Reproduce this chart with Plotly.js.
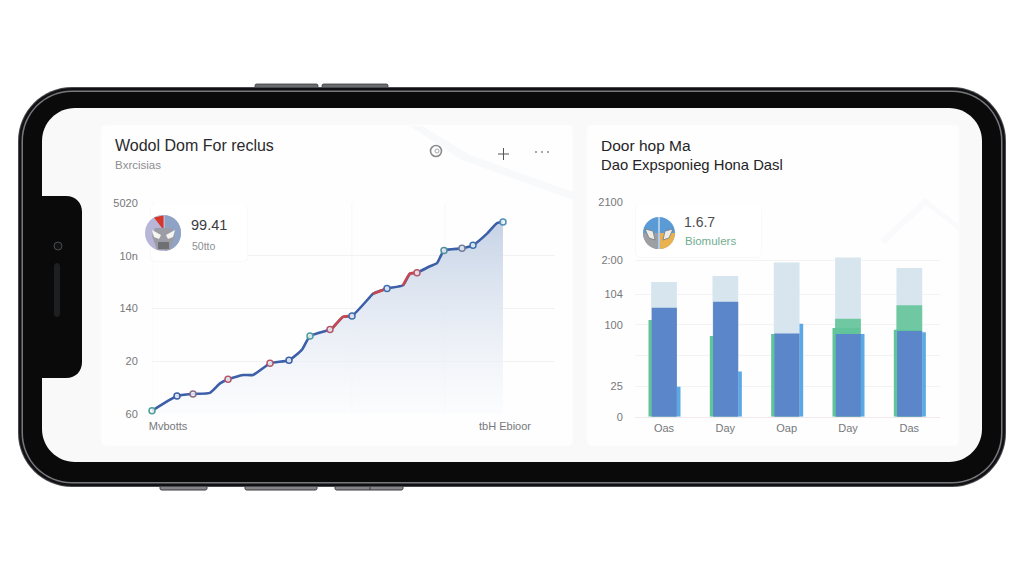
<!DOCTYPE html>
<html><head><meta charset="utf-8">
<script src="https://cdn.plot.ly/plotly-3.0.1.min.js"></script>
<style>html,body{margin:0;padding:0;background:#fff;overflow:hidden}#c{width:1024px;height:576px}</style>
</head><body><div id="c"></div>
<script>
// ---- left chart data
const lineX = [0,25,41,58,68,76,91,101,118,137,150,158,178,181,191,200,218,221,235,251,258,265,278,285,292,310,321,335,345,351];
const lineY = [3,17,19,20,29,33,37,37,48,51,61,74,80,82,92,93,111,114,119,122,133,134,140,143,155,157,160,171,181,182];
const redX = [178,181,191,200,null,221,235,null,251,258,265];
const redY = [80,82,92,93,null,114,119,null,122,133,134];
const dotX = [0,25,41,76,118,137,158,178,200,235,265,292,310,321,351];
const dotY = [3,17,19,33,48,51,74,80,93,119,134,155,157,160,182];
const dotC = ['#4f9e9c','#3b5ea8','#8d6b88','#b5566a','#b5566a','#3b5ea8','#4f9e9c','#b5566a','#3b6fb0','#3b6fb0','#b5566a','#4f8f9c','#6f7f9c','#3b6fb0','#4f8fb8'];
const leftTickVals = [0,50,100,150,200];
const leftTickText = ['60','20','140','10n','5020'];
const leftXTickVals = [16,353];
const leftXTickText = ['Mvbotts','tbH Ebioor'];
// ---- right chart data
const barX = [0,1,2,3,4];
const barLabels = ['Oas','Day','Oap','Day','Das'];
const paleVals = [110,115,126,130,121.5];
const midGreenVals = [null,null,null,80,91];
const greenVals = [79,66,67.5,72.5,71];
const skyVals = [24.5,37,76,67.5,69];
const blueVals = [89,94,68,67.5,70];
const rightTickVals = [0,25,50,75,100,128,175];
const rightTickText = ['0','25','','100','104','2:00','2100'];

const W=1024,H=576;
const px=x=>x/W, py=y=>1-y/H;
const P=(x,y)=>px(x)+','+py(y);
function rr(x0,y0,x1,y1,r){const k=r*0.448;return 'M'+P(x0+r,y0)+' L'+P(x1-r,y0)+' C'+P(x1-k,y0)+' '+P(x1,y0+k)+' '+P(x1,y0+r)+' L'+P(x1,y1-r)+' C'+P(x1,y1-k)+' '+P(x1-k,y1)+' '+P(x1-r,y1)+' L'+P(x0+r,y1)+' C'+P(x0+k,y1)+' '+P(x0,y1-k)+' '+P(x0,y1-r)+' L'+P(x0,y0+r)+' C'+P(x0,y0+k)+' '+P(x0+k,y0)+' '+P(x0+r,y0)+' Z';}
function poly(pts){return 'M'+pts.map(p=>P(p[0],p[1])).join(' L')+' Z';}
const shp=(path,fill,lineC,lw,layer)=>({type:'path',xref:'paper',yref:'paper',path:path,fillcolor:fill,line:{color:lineC||'rgba(0,0,0,0)',width:lw||0},layer:layer||'below'});
const circ=(cx,cy,r,fill,lineC,lw,layer)=>({type:'circle',xref:'paper',yref:'paper',x0:px(cx-r),x1:px(cx+r),y0:py(cy+r),y1:py(cy-r),fillcolor:fill,line:{color:lineC||'rgba(0,0,0,0)',width:lw||0},layer:layer||'below'});
const seg=(x0,y0,x1,y1,c,w,layer)=>({type:'line',xref:'paper',yref:'paper',x0:px(x0),y0:py(y0),x1:px(x1),y1:py(y1),line:{color:c,width:w},layer:layer||'below'});

const shapes=[];
// buttons
[[255,318],[322,388]].forEach(b=>shapes.push(shp(rr(b[0],84,b[1],89,1.5),'#6a6b6f','#3a3a3c',0.8)));
[[160,207],[245,317],[335,403]].forEach(b=>shapes.push(shp(rr(b[0],485,b[1],490,1.5),'#85868a','#3a3a3c',1)));
shapes.push(seg(370,485,370,490,'#3a3a3c',1));
// phone
shapes.push(shp(rr(18,87,1006,487,54),'#4a4b4e'));
shapes.push(shp(rr(19,88,1005,486,53),'#111113'));
shapes.push(shp(rr(21.5,90.5,1002.5,483.5,50.5),'#77787c'));
shapes.push(shp(rr(23,92,1001,482,49),'#0a0a0b'));
shapes.push(shp(rr(42,108,982,462,33),'#f9f9fa'));
// notch
shapes.push(shp('M'+P(38,196)+' L'+P(66,196)+' C'+P(76,196)+' '+P(82,203)+' '+P(82,212)+' L'+P(82,362)+' C'+P(82,371)+' '+P(76,378)+' '+P(66,378)+' L'+P(38,378)+' Z','#0a0a0b'));
shapes.push(circ(58,246,4,'#111214','#4a4c50',1));
shapes.push(shp(rr(54,263,60,317,3),'#1e1f21'));
// cards
shapes.push(shp(rr(101,125,573,446,5),'#fefefe','#fbfbfc',1));
shapes.push(shp(rr(587,125,959,446,5),'#fefefe','#fbfbfc',1));
// faint swooshes
shapes.push(shp(poly([[410,126],[422,126],[470,155],[573,192],[573,200],[462,160]]),'#f8f9fb'));
shapes.push(shp(poly([[880,240],[925,198],[959,225],[959,231],[926,205],[885,244]]),'#fafafc'));
// tooltip cards
shapes.push(shp(rr(150,205,248,262,4),'#f9f9fa',null,0,'above'));
shapes.push(shp(rr(151,205,247,261,4),'#ffffff',null,0,'above'));
shapes.push(shp(rr(635,205,762,258,5),'#f8f9f9',null,0,'above'));
shapes.push(shp(rr(636,205,761,257,5),'#ffffff',null,0,'above'));
// left icon
shapes.push(circ(163,233,18,'#b8b6d8',null,0,'above'));
shapes.push(shp('M'+P(165,215)+' C'+P(175,216)+' '+P(181,224)+' '+P(181,233)+' C'+P(181,242)+' '+P(175,250)+' '+P(165,251)+' Z','#8ea3c6',null,0,'above'));
shapes.push(shp(poly([[154,217.5],[163.5,215.5],[163.5,230]]),'#d8352b',null,0,'above'));
shapes.push(shp(poly([[155,228],[172,228],[175,236],[170,250],[157,250],[152,236]]),'#9c9ca6',null,0,'above'));
shapes.push(shp(poly([[152,230],[161,235],[159,239],[154,237]]),'#f6f6f0',null,0,'above'));
shapes.push(shp(poly([[175,230],[166,235],[168,239],[173,237]]),'#f6f6f0',null,0,'above'));
shapes.push(shp(poly([[158,242],[169,242],[169,249],[158,249]]),'#6f7074',null,0,'above'));
// right icon
shapes.push(circ(659,233,16,'#5b9bd5',null,0,'above'));
shapes.push(shp('M'+P(660,233)+' L'+P(675,233)+' C'+P(675,242)+' '+P(668,249)+' '+P(660,249)+' Z','#e9b24f',null,0,'above'));
shapes.push(shp('M'+P(643,233)+' L'+P(658,233)+' L'+P(658,249)+' C'+P(650,249)+' '+P(643,242)+' '+P(643,233)+' Z','#9d9fa3',null,0,'above'));
shapes.push(seg(659,217,659,249,'#ffffff',1,'above'));
shapes.push(shp(poly([[645,229],[653,231],[655,240],[649,238]]),'#ecece9','#77787b',0.8,'above'));
shapes.push(shp(poly([[673,229],[665,231],[663,240],[669,238]]),'#ecece9','#77787b',0.8,'above'));
// header icons
shapes.push(circ(436,151,5.5,'rgba(0,0,0,0)','#8b8c8e',1.6));
shapes.push(circ(437,151,2,'rgba(0,0,0,0)','#a5a6a8',1));
shapes.push(seg(498,154,509,154,'#555',1));
shapes.push(seg(503.5,148,503.5,160,'#555',1));
[536,542,548].forEach(x=>shapes.push(circ(x,152,1,'#8a8b8d')));
// faint vertical grid, left chart
[0,200,293].forEach(v=>shapes.push({type:'line',xref:'x',yref:'y',x0:v,x1:v,y0:0,y1:200,line:{color:'#f6f7f8',width:1},layer:'below'}));

const txt=(x,y,t,size,color,extra)=>Object.assign({xref:'paper',yref:'paper',x:px(x-2),y:py(y),xanchor:'left',yanchor:'middle',text:t,showarrow:false,font:{family:'Liberation Sans, Arial, sans-serif',size:size,color:color}},extra||{});
const annotations=[
 txt(115,145,'Wodol Dom For reclus',16,'#2a2a2c'),
 txt(115,165,'Bxrcisias',11.5,'#8c8d90'),
 txt(601,145,'Door hop Ma',15.5,'#242426'),
 txt(601,165,'Dao Expsponieg Hona Dasl',14.8,'#242426'),
 txt(191,225,'99.41',14.5,'#3a3b3e'),
 txt(192,246,'50tto',10.5,'#8e8f92'),
 txt(684,222,'1.6.7',14,'#4a4b4e'),
 txt(685,241,'Biomulers',11.5,'#6fae90')
];

const tf={family:'Liberation Sans, Arial, sans-serif',size:11,color:'#77787b'};
const hover={hoverinfo:'skip'};
const traces=[
 Object.assign({x:lineX,y:lineY,xaxis:'x',yaxis:'y',type:'scatter',mode:'lines',fill:'tozeroy',
   fillgradient:{type:'vertical',colorscale:[[0,'rgba(250,251,253,0.6)'],[1,'#c6d3e6']]},
   line:{color:'#3c5fa8',width:2.6,shape:'spline',smoothing:0.5},cliponaxis:false},hover),
 Object.assign({x:redX,y:redY,xaxis:'x',yaxis:'y',type:'scatter',mode:'lines',
   line:{color:'#c9474f',width:2.6,shape:'spline',smoothing:0.5},cliponaxis:false},hover),
 Object.assign({x:dotX,y:dotY,xaxis:'x',yaxis:'y',type:'scatter',mode:'markers',
   marker:{size:6,color:'rgba(240,245,248,0.85)',line:{color:dotC,width:1.5}},cliponaxis:false},hover),
 Object.assign({x:barX,y:skyVals,xaxis:'x2',yaxis:'y2',type:'bar',width:0.465,offset:-0.196,marker:{color:'#5aa8e6',line:{width:0}}},hover),
 Object.assign({x:barX,y:paleVals,xaxis:'x2',yaxis:'y2',type:'bar',width:0.42,offset:-0.21,marker:{color:'#d7e6ee',line:{width:0}}},hover),
 Object.assign({x:barX,y:midGreenVals,xaxis:'x2',yaxis:'y2',type:'bar',width:0.42,offset:-0.21,marker:{color:'#6fc8a2',line:{width:0}}},hover),
 Object.assign({x:barX,y:greenVals,xaxis:'x2',yaxis:'y2',type:'bar',width:0.45,offset:-0.253,marker:{color:'#62c49a',line:{width:0}}},hover),
 Object.assign({x:barX,y:blueVals,xaxis:'x2',yaxis:'y2',type:'bar',width:0.41,offset:-0.2,marker:{color:'#5b86c9',line:{width:0}}},hover)
];

const layout={
 width:W,height:H,margin:{l:0,r:0,t:0,b:0},paper_bgcolor:'#ffffff',plot_bgcolor:'rgba(0,0,0,0)',showlegend:false,
 barmode:'overlay',hovermode:false,
 xaxis:{domain:[px(152),px(555)],range:[0,403],tickmode:'array',tickvals:leftXTickVals,ticktext:leftXTickText,showgrid:false,zeroline:false,showline:false,ticks:'outside',ticklen:2,tickcolor:'rgba(0,0,0,0)',tickfont:tf,anchor:'y'},
 yaxis:{domain:[py(414),py(203)],range:[0,200],tickmode:'array',tickvals:leftTickVals,ticktext:leftTickText,gridcolor:'#f1f2f4',gridwidth:1,zeroline:false,showline:false,ticks:'outside',ticklen:11,tickcolor:'rgba(0,0,0,0)',tickfont:tf,anchor:'x'},
 xaxis2:{domain:[px(635),px(940)],range:[-0.473,4.5],tickmode:'array',tickvals:barX,ticktext:barLabels,showgrid:false,zeroline:false,showline:true,linecolor:'#f1e9ec',ticks:'outside',ticklen:1,tickcolor:'rgba(0,0,0,0)',tickfont:tf,anchor:'y2'},
 yaxis2:{domain:[py(416.7),py(202.5)],range:[0,175],tickmode:'array',tickvals:rightTickVals,ticktext:rightTickText,gridcolor:'#f3f3f5',gridwidth:1,zeroline:false,showline:false,ticks:'outside',ticklen:9,tickcolor:'rgba(0,0,0,0)',tickfont:tf,anchor:'x2'},
 shapes:shapes,annotations:annotations
};
Plotly.newPlot('c',traces,layout,{displayModeBar:false,staticPlot:true});
</script></body></html>
